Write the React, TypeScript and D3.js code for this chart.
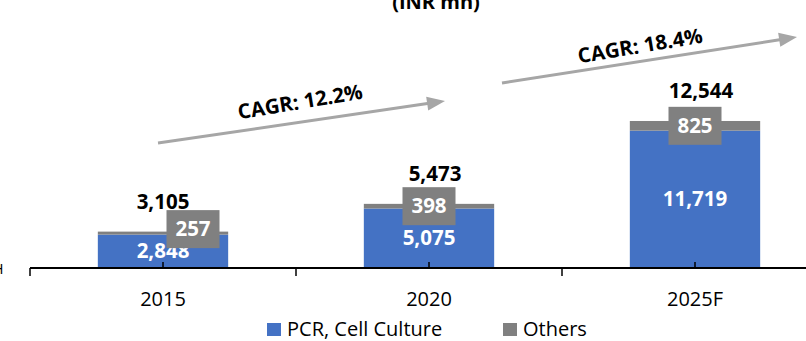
import React from "react";
import * as d3 from "d3";

const categories = ["2015", "2020", "2025F"];
const pcrValues = [2848, 5075, 11719];
const othersValues = [257, 398, 825];
const totalValues = [3105, 5473, 12544];
const seriesNames = ["PCR, Cell Culture", "Others"];
const cagrLabels = ["CAGR: 12.2%", "CAGR: 18.4%"];
const titleText = "(INR mn)";

const W = 806;
const H = 341;
const FONT = "'Open Sans', 'Liberation Sans', sans-serif";
const BLUE = "#4472C4";
const GREY = "#808080";
const ARROW = "#A6A6A6";

export default function App() {
  const baseY = 268;
  const x = d3.scaleBand<string>().domain(categories).range([30, 828]).padding(0);
  const y = d3.scaleLinear().domain([0, 14000]).range([baseY, baseY - 14000 * 0.01172]);
  const bw = x.bandwidth() * 0.49;
  const fmt = d3.format(",");

  const stacks = categories.map((c, i) => {
    const cx = (x(c) as number) + x.bandwidth() / 2;
    return {
      c,
      cx,
      pcrTop: y(pcrValues[i]),
      totTop: y(pcrValues[i] + othersValues[i]),
    };
  });

  // label offsets for the 'Others' boxes (the first one is shifted right in the source)
  const boxDx = [30, 0, 0];
  const boxDy = [-4, 0, 0];

  // CAGR arrows anchored between bars
  const arrows = [
    { x1: 158, y1: 143, x2: 445, y2: 101 },
    { x1: 502, y1: 83, x2: 797, y2: 37 },
  ];
  const cagrPos = [
    { x: 300, y: 101 },
    { x: 640, y: 45 },
  ];

  const boundaries = [...categories.map((c) => x(c) as number), 828];

  return (
    <svg
      width={W}
      height={H}
      style={{ position: "absolute", left: 0, top: 0, background: "#fff" }}
      fontFamily={FONT}
    >
      <rect width={W} height={H} fill="#fff" />
      <text x={436} y={9} textAnchor="middle" fontWeight="bold" fontSize={20} fill="#000">
        {titleText}
      </text>
      <text x={3.5} y={274} textAnchor="end" fontSize={15} fill="#000">H</text>

      {stacks.map((s, i) => (
        <g key={s.c}>
          <rect x={s.cx - bw / 2} y={s.pcrTop} width={bw} height={baseY - s.pcrTop} fill={BLUE} />
          <rect x={s.cx - bw / 2} y={s.totTop} width={bw} height={s.pcrTop - s.totTop} fill={GREY} />
        </g>
      ))}

      {/* axis */}
      <line x1={30} x2={W} y1={baseY} y2={baseY} stroke="#000" strokeWidth={2} />
      {boundaries.map((b, i) => (
        <line key={"b" + i} x1={b} x2={b} y1={baseY} y2={baseY + 8} stroke="#000" strokeWidth={1.5} />
      ))}
      {stacks.map((s) => (
        <line key={"t" + s.c} x1={s.cx} x2={s.cx} y1={baseY - 6} y2={baseY} stroke="#000" strokeWidth={1.5} />
      ))}
      {stacks.map((s) => (
        <text key={"l" + s.c} x={s.cx} y={306} textAnchor="middle" fontSize={20} fill="#000">
          {s.c}
        </text>
      ))}

      {/* labels */}
      {stacks.map((s, i) => (
        <text key={"p" + s.c} x={s.cx} y={(s.pcrTop + baseY) / 2 + 7} textAnchor="middle" fontSize={20.5} fontWeight="bold" fill="#fff">
          {fmt(pcrValues[i])}
        </text>
      ))}
      {stacks.map((s, i) => {
        const cx = s.cx + boxDx[i];
        const cy = (s.totTop + s.pcrTop) / 2 + boxDy[i];
        return (
          <g key={"o" + s.c}>
            <rect x={cx - 26.5} y={cy - 19} width={53} height={38} fill={GREY} />
            <text x={cx} y={cy + 7} textAnchor="middle" fontSize={20.5} fontWeight="bold" fill="#fff">
              {fmt(othersValues[i])}
            </text>
          </g>
        );
      })}
      {stacks.map((s, i) => (
        <text key={"tot" + s.c} x={s.cx + (i === 0 ? 0 : 6)} y={s.totTop - 23} textAnchor="middle" fontSize={20.5} fontWeight="bold" fill="#000">
          {fmt(totalValues[i])}
        </text>
      ))}

      {/* CAGR arrows */}
      {arrows.map((a, i) => {
        const ang = (Math.atan2(a.y2 - a.y1, a.x2 - a.x1) * 180) / Math.PI;
        const len = Math.hypot(a.x2 - a.x1, a.y2 - a.y1);
        return (
          <g key={"a" + i} transform={`translate(${a.x1},${a.y1}) rotate(${ang})`}>
            <line x1={0} y1={0} x2={len - 16} y2={0} stroke={ARROW} strokeWidth={3} />
            <path d={`M${len - 18},-7 L${len},0 L${len - 18},7 Z`} fill={ARROW} />
          </g>
        );
      })}
      {cagrLabels.map((t, i) => (
        <text
          key={"c" + i}
          x={cagrPos[i].x}
          y={cagrPos[i].y}
          textAnchor="middle"
          dominantBaseline="central"
          fontSize={20.5}
          fontWeight="bold"
          fill="#000"
          transform={`rotate(-9.5, ${cagrPos[i].x}, ${cagrPos[i].y})`}
        >
          {t}
        </text>
      ))}

      {/* legend */}
      <rect x={267} y={323} width={14} height={13} fill={BLUE} />
      <text x={287} y={336} fontSize={20} fill="#000">{seriesNames[0]}</text>
      <rect x={503} y={323} width={14} height={13} fill={GREY} />
      <text x={523} y={336} fontSize={20} fill="#000">{seriesNames[1]}</text>
    </svg>
  );
}
